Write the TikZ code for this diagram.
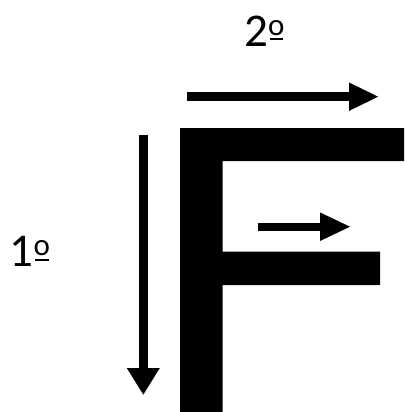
\documentclass[tikz,border=0pt]{standalone}
\usepackage{fontspec}
\setmainfont{Carlito}
\usetikzlibrary{arrows.meta}
\newcommand{\ordmark}{\sbox0{\fontsize{31}{34}\selectfont o}\rlap{\raisebox{11pt}{\usebox0}}\kern1.3pt\rule[6pt]{\dimexpr\wd0-2.6pt\relax}{2.2pt}\kern1.3pt}
\begin{document}
\begin{tikzpicture}[x=1pt,y=-1pt,
  lbl/.style={font=\fontsize{47}{52}\selectfont,anchor=base,inner sep=0pt}]
\useasboundingbox (0,0) rectangle (404,412);
\fill[white] (0,0) rectangle (404,412);
% letter F
\fill[black] (180,128) -- (404,128) -- (404,161) -- (222.7,161) -- (222.7,251.7)
  -- (380,251.7) -- (380,285) -- (222.7,285) -- (222.7,412) -- (180,412) -- cycle;
% coordinates
\coordinate (t1) at (186.7,96.7);
\coordinate (t2) at (379,96.7);
\coordinate (m1) at (258,226.7);
\coordinate (m2) at (351,226.7);
\coordinate (v1) at (143.3,135);
\coordinate (v2) at (143.3,395);
\draw[line width=8.5pt,-{Triangle[length=30pt,width=26pt]}] (t1) -- (t2);
\draw[line width=8pt,-{Triangle[length=31pt,width=26pt]}] (m1) -- (m2);
\draw[line width=9pt,-{Triangle[length=27pt,width=31pt]}] (v1) -- (v2);
\node[lbl] (second) at (264.5,46.3) {2\ordmark};
\node[lbl] (first) at (30,266.7) {1\ordmark};
\end{tikzpicture}
\end{document}
